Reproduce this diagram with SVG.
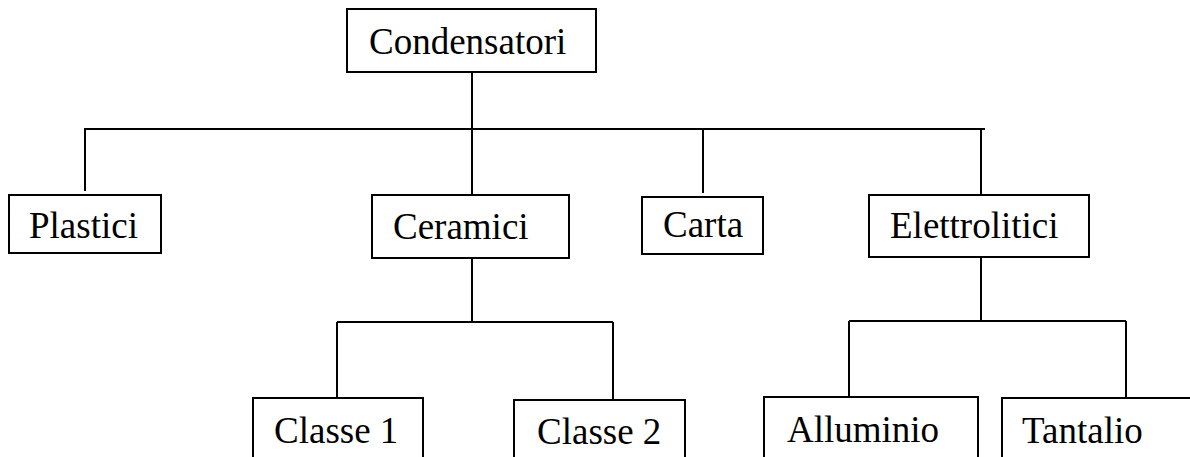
<svg xmlns="http://www.w3.org/2000/svg" width="1190" height="457" viewBox="0 0 1190 457">
<style>
.box{fill:#fff;stroke:#000;stroke-width:2}
.lbl{font-family:"Liberation Serif","Times New Roman",serif;font-size:37px;fill:#000}
.ln{stroke:#000;stroke-width:2;fill:none}
</style>
<rect width="1190" height="457" fill="#fff"/>
<g id="connectors">
<line class="ln" x1="472" y1="72" x2="472" y2="129"/>
<line class="ln" x1="84" y1="129" x2="985" y2="129"/>
<line class="ln" x1="85" y1="129" x2="85" y2="191"/>
<line class="ln" x1="472" y1="129" x2="472" y2="195"/>
<line class="ln" x1="703" y1="129" x2="703" y2="193"/>
<line class="ln" x1="981" y1="129" x2="981" y2="195"/>
<line class="ln" x1="472" y1="258" x2="472" y2="322"/>
<line class="ln" x1="337" y1="322" x2="613" y2="322"/>
<line class="ln" x1="337" y1="322" x2="337" y2="398"/>
<line class="ln" x1="613" y1="322" x2="613" y2="400"/>
<line class="ln" x1="981" y1="257" x2="981" y2="321"/>
<line class="ln" x1="849" y1="321" x2="1126" y2="321"/>
<line class="ln" x1="849" y1="321" x2="849" y2="397"/>
<line class="ln" x1="1126" y1="321" x2="1126" y2="398"/>
</g>
<g id="condensatori"><rect class="box" x="347" y="9" width="249" height="63"/><text class="lbl" x="369" y="54">Condensatori</text></g>
<g id="plastici"><rect class="box" x="9" y="195" width="152" height="58"/><text class="lbl" x="29" y="238">Plastici</text></g>
<g id="ceramici"><rect class="box" x="372" y="195" width="197" height="63"/><text class="lbl" x="393" y="239">Ceramici</text></g>
<g id="carta"><rect class="box" x="642" y="197" width="121" height="57"/><text class="lbl" x="663" y="237">Carta</text></g>
<g id="elettrolitici"><rect class="box" x="869" y="195" width="220" height="62"/><text class="lbl" x="890" y="238">Elettrolitici</text></g>
<g id="classe1"><rect class="box" x="253" y="398" width="170" height="70"/><text class="lbl" x="274" y="443">Classe 1</text></g>
<g id="classe2"><rect class="box" x="514" y="400" width="171" height="70"/><text class="lbl" x="537" y="444">Classe 2</text></g>
<g id="alluminio"><rect class="box" x="764" y="397" width="214" height="70"/><text class="lbl" x="787" y="442">Alluminio</text></g>
<g id="tantalio"><rect class="box" x="1002" y="398" width="200" height="70"/><text class="lbl" x="1022" y="443">Tantalio</text></g>
</svg>
